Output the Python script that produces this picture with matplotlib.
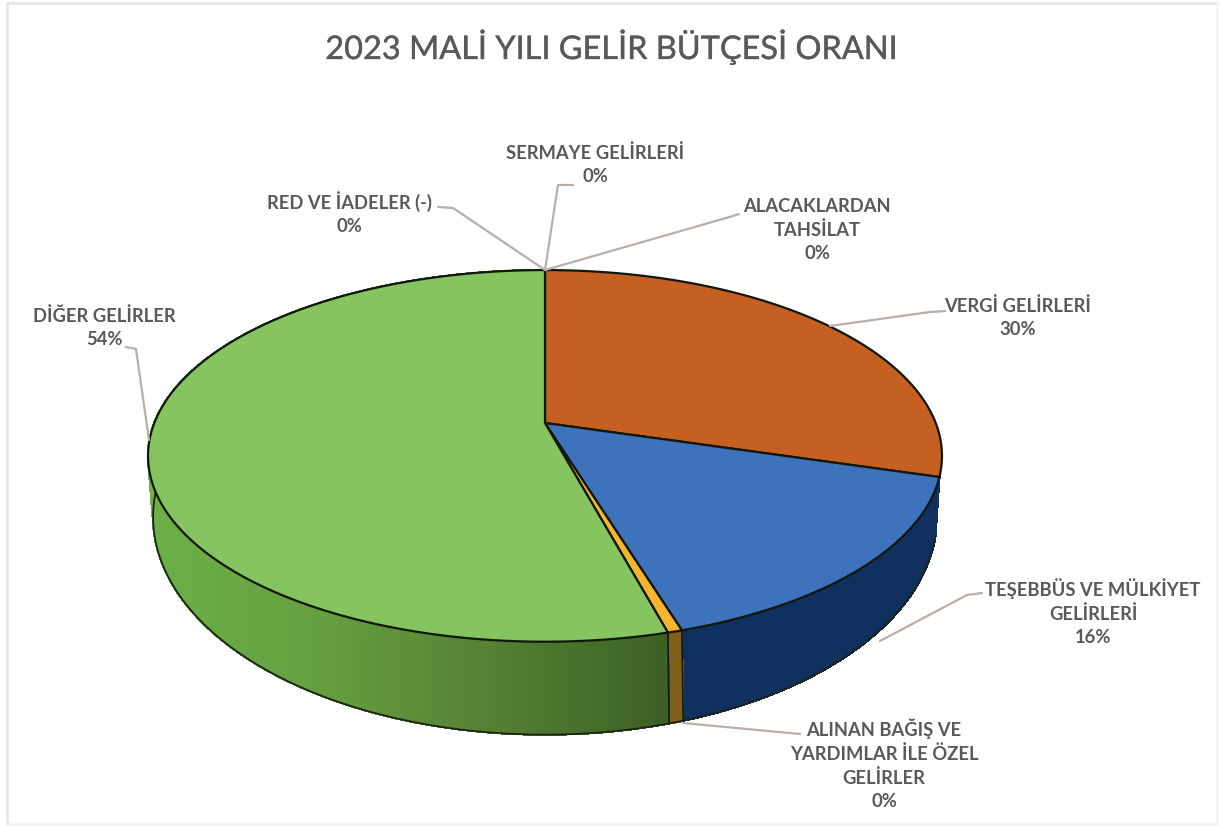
"""2023 mali yılı gelir bütçesi: perspective 3D pie drawn with polygons."""

import numpy as np
import matplotlib
matplotlib.use("Agg")
import matplotlib.pyplot as plt
import matplotlib.patheffects as pe
from matplotlib.collections import PolyCollection
from matplotlib.colors import LinearSegmentedColormap, to_rgb
from matplotlib.patches import Polygon

# ---------------------------------------------------------------------------
# Data (clockwise from 12 o'clock)
# ---------------------------------------------------------------------------

TITLE = "2023 MALİ YILI GELİR BÜTÇESİ ORANI"
CATEGORIES = [
    "ALACAKLARDAN\nTAHSİLAT",
    "VERGİ GELİRLERİ",
    "TEŞEBBÜS VE MÜLKİYET\nGELİRLERİ",
    "ALINAN BAĞIŞ VE\nYARDIMLAR İLE ÖZEL\nGELİRLER",
    "DİĞER GELİRLER",
    "RED VE İADELER (-)",
    "SERMAYE GELİRLERİ",
]
SHARES = [0.0, 29.6, 15.7, 0.5, 54.2, 0.0, 0.0]

# ---------------------------------------------------------------------------
# Styling
# ---------------------------------------------------------------------------

TOP_COLORS = ["#c55f22", "#c55f22", "#3f72bd", "#f5b52d", "#85c45f", "#85c45f", "#85c45f"]
# "green" walls use the gradient below, the orange wall is never visible
SIDE_COLORS = [None, None, "#10305f", "#7f5f1a", "green", None, None]
GREEN_SIDE = LinearSegmentedColormap.from_list(
    "green_side", ["#6cb048", "#659f3f", "#567f33", "#3c6024"]
)
TEXT_COLOR = "#595959"
LEADER_COLOR = "#b8afa8"
OUTLINE = "#10180c"
FONT = "Lato"

# label block centre (x, y)
LABEL_POS = [(817, 230), (1018, 318), (1093, 612), (884, 764), (104, 328), (349, 213), (595, 165)]
LEADERS = [
    [(545, 270), (733, 216), (739, 214)],
    [(830, 326), (930, 312), (945, 311)],
    [(880, 641), (967, 595), (982, 593)],
    [(683, 723), (800, 734)],
    [(149, 440), (136, 349), (126, 347)],
    [(545, 270), (453, 208), (438, 207)],
    [(545, 270), (558, 185), (573, 185)],
]

# projective rim: (cx, y0, a, b, k)
TOP_RIM = (545.0, 423.0, 390.7, 180.0, 0.177)
BOTTOM_RIM = (545.0, 473.4, 384.0, 209.0, 0.200)


def project(theta, rim):
    """Map angle (rad, clockwise from the back of the disc) onto the screen."""
    cx, y0, a, b, k = rim
    sx, cy = np.sin(theta), np.cos(theta)
    den = 1 + k * cy
    return np.column_stack([cx + a * sx / den, y0 - b * cy / den])


def main():
    fig = plt.figure(figsize=(12.19, 8.26), dpi=100, facecolor="white")
    ax = fig.add_axes([0, 0, 1, 1])
    ax.set_xlim(0, 1219)
    ax.set_ylim(826, 0)
    ax.axis("off")

    # scanned frame: visible on the top/left, nearly gone on the bottom/right
    ax.plot([7, 7, 1217], [824, 3, 3], color="#e6e4e2", lw=1.8, zorder=0)
    ax.plot([7, 1217, 1217], [824, 824, 3], color="#f2f4f6", lw=1.8, zorder=0)

    edges = np.radians(np.concatenate([[0], np.cumsum(SHARES)]) * 3.6)
    edges[-1] = 2 * np.pi

    # side wall strips
    for i, share in enumerate(SHARES):
        if share <= 0 or SIDE_COLORS[i] is None:
            continue
        t = np.linspace(edges[i], edges[i + 1], max(int(share * 6), 3))
        top, bot = project(t, TOP_RIM), project(t, BOTTOM_RIM)
        quads = [[top[j], top[j + 1], bot[j + 1], bot[j]] for j in range(len(t) - 1)]
        if SIDE_COLORS[i] == "green":
            mid_x = (top[:-1, 0] + top[1:, 0]) / 2
            colors = GREEN_SIDE(np.clip((mid_x - 150) / (668 - 150), 0, 1))
        else:
            colors = [to_rgb(SIDE_COLORS[i])] * len(quads)
        ax.add_collection(PolyCollection(quads, facecolors=colors, edgecolors=colors,
                                         linewidths=1.0, antialiaseds=False, zorder=2))

    # outer silhouette of the lower rim, seams between the walls
    t = np.linspace(edges[2], np.pi * 1.57, 300)
    rim = project(t, BOTTOM_RIM)
    ax.plot(rim[:, 0], rim[:, 1], color="#1c2415", lw=1.3, zorder=3)
    for i, share in enumerate(SHARES):
        if share <= 0 or not (np.pi * 0.6 < edges[i] < np.pi * 1.5):
            continue
        a = project(np.array([edges[i]]), TOP_RIM)[0]
        b = project(np.array([edges[i]]), BOTTOM_RIM)[0]
        ax.plot([a[0], b[0]], [a[1], b[1]], color=OUTLINE, lw=1.2, zorder=3)

    # top faces
    centre = (TOP_RIM[0], TOP_RIM[1])
    for i, share in enumerate(SHARES):
        if share <= 0:
            continue
        t = np.linspace(edges[i], edges[i + 1], max(int(share * 8), 3))
        pts = np.vstack([[centre], project(t, TOP_RIM)])
        ax.add_patch(Polygon(pts, closed=True, fc=TOP_COLORS[i], ec=OUTLINE, lw=1.6,
                             joinstyle="round", zorder=4))

    # leaders and labels
    for path in LEADERS:
        xs, ys = zip(*path)
        ax.plot(xs, ys, color=LEADER_COLOR, lw=1.6, zorder=5, solid_capstyle="round")
    for cat, share, (x, y) in zip(CATEGORIES, SHARES, LABEL_POS):
        ax.text(x, y, f"{cat}\n{share:.0f}%", ha="center", va="center", color=TEXT_COLOR,
                fontsize=13.2, family=FONT, weight="bold", linespacing=1.42, zorder=6)

    title = ax.text(612, 47, TITLE, ha="center", va="center", color=TEXT_COLOR,
                    fontsize=23.4, family=FONT, zorder=6)
    title.set_path_effects([pe.withStroke(linewidth=0.25, foreground=TEXT_COLOR)])

    fig.savefig("out.png", dpi=100)


if __name__ == "__main__":
    main()
